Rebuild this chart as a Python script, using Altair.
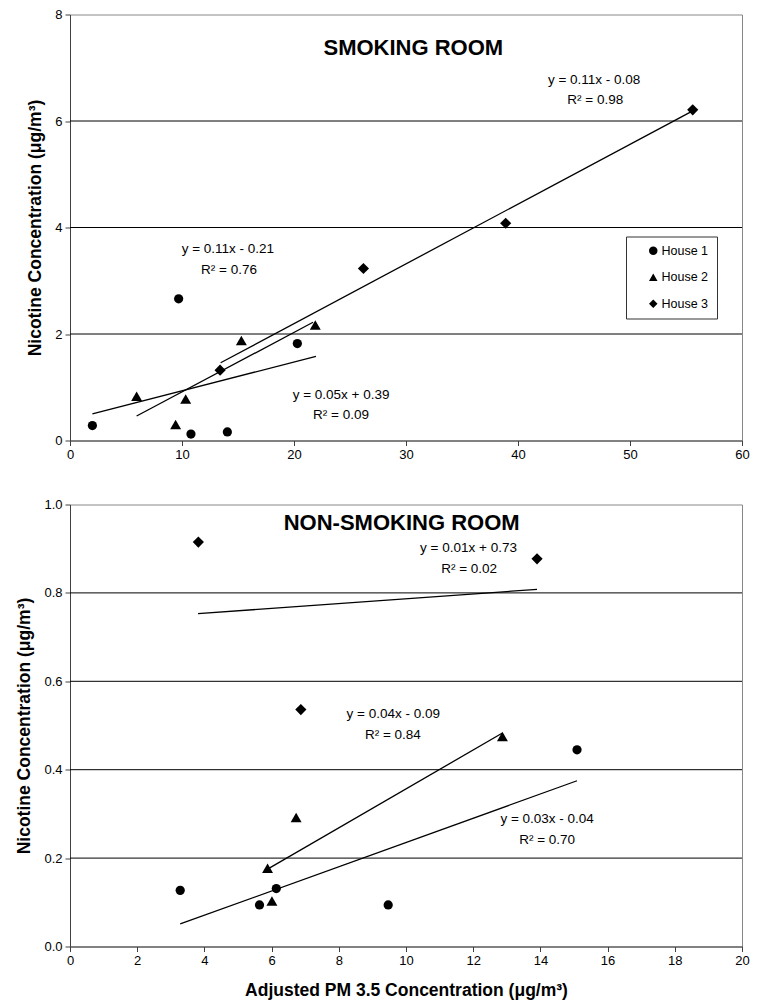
import altair as alt
import pandas as pd

FONT = "Liberation Sans"
houses = ["House 1", "House 2", "House 3"]
shapes = ["circle", "triangle-up", "diamond"]
marker_area = [85, 120, 125]

# ---- Smoking room: adjusted PM 3.5 (x) vs nicotine (y) ----
smk_h1_pm = [2.0, 9.7, 10.8, 14.05, 20.3]
smk_h1_nic = [0.28, 2.66, 0.12, 0.16, 1.82]
smk_h2_pm = [5.95, 9.43, 10.33, 15.3, 21.9]
smk_h2_nic = [0.83, 0.30, 0.78, 1.88, 2.17]
smk_h3_pm = [13.4, 26.2, 38.9, 55.6]
smk_h3_nic = [1.32, 3.23, 4.08, 6.21]

# Linear trendline end points (x pair, y pair)
smk_fit_h1 = ([2.0, 21.96], [0.50, 1.58])
smk_fit_h2 = ([5.95, 21.7], [0.46, 2.22])
smk_fit_h3 = ([13.45, 55.6], [1.46, 6.19])

smk_eq_text = ["y = 0.11x - 0.08", "R² = 0.98",
               "y = 0.11x - 0.21", "R² = 0.76",
               "y = 0.05x + 0.39", "R² = 0.09"]

# ---- Non-smoking room ----
non_h1_pm = [3.28, 5.64, 6.14, 9.47, 15.09]
non_h1_nic = [0.127, 0.094, 0.131, 0.094, 0.445]
non_h2_pm = [5.88, 6.01, 6.73, 12.87]
non_h2_nic = [0.177, 0.103, 0.292, 0.475]
non_h3_pm = [3.82, 6.87, 13.9]
non_h3_nic = [0.915, 0.536, 0.877]

non_fit_h1 = ([3.28, 15.09], [0.051, 0.375])
non_fit_h2 = ([5.88, 12.87], [0.175, 0.483])
non_fit_h3 = ([3.81, 13.9], [0.753, 0.808])

non_eq_text = ["y = 0.01x + 0.73", "R² = 0.02",
               "y = 0.04x - 0.09", "R² = 0.84",
               "y = 0.03x - 0.04", "R² = 0.70"]

# Annotation anchors, in axis units
smk_eq_x = [46.8, 46.9, 14.1, 14.2, 24.2, 24.2]
smk_eq_y = [6.77, 6.39, 3.60, 3.21, 0.86, 0.47]
non_eq_x = [11.86, 11.88, 9.62, 9.61, 14.2, 14.2]
non_eq_y = [0.902, 0.855, 0.527, 0.479, 0.288, 0.240]
smk_heading = ("SMOKING ROOM", 30.65, 7.37)
non_heading = ("NON-SMOKING ROOM", 9.87, 0.959)

smk_grid = [2, 4, 6]
non_grid = [0.2, 0.4, 0.6, 0.8]

Y_TITLE = "Nicotine Concentration (μg/m³)"
X_TITLE = "Adjusted PM 3.5 Concentration (μg/m³)"


def series_frame(series):
    rows = []
    for house, (xs, ys) in zip(houses, series):
        rows += [{"house": house, "pm": x, "nic": y} for x, y in zip(xs, ys)]
    return pd.DataFrame(rows)


def panel(pts, fits, eq_text, eq_x, eq_y, heading, grid, x_max, x_step,
          y_max, y_step, y_fmt, width, height, legend, x_title, ytitle_x):
    x_axis = alt.Axis(values=list(range(0, x_max + 1, x_step)), format="d",
                      title=x_title, labelFlush=False, grid=False,
                      titleY=44, titleBaseline="middle")
    n_y = int(round(y_max / y_step))
    y_axis = alt.Axis(values=[round(i * y_step, 3) for i in range(n_y + 1)],
                      format=y_fmt, title=Y_TITLE, labelFlush=False, grid=False,
                      titleX=ytitle_x, titleBaseline="middle")
    xs = alt.Scale(domain=[0, x_max], nice=False, zero=False)
    ys = alt.Scale(domain=[0, y_max], nice=False, zero=False)
    X = alt.X("pm:Q", scale=xs, axis=x_axis)
    Y = alt.Y("nic:Q", scale=ys, axis=y_axis)

    grid_layer = alt.Chart(pd.DataFrame({"nic": grid})).mark_rule(
        color="black", strokeWidth=1).encode(y=Y)

    fit_layer = alt.Chart(fits).mark_line(color="black", strokeWidth=1.3).encode(
        x=X, y=Y, detail="house:N")

    shape_enc = alt.Shape("house:N", scale=alt.Scale(domain=houses, range=shapes),
                          legend=legend)

    # one point layer per house so each marker type gets its own area
    point_layers = [
        alt.Chart(pts).transform_filter(alt.datum.house == h).mark_point(
            filled=True, color="black", opacity=1, strokeWidth=0, size=a).encode(
            x=X, y=Y, shape=shape_enc)
        for h, a in zip(houses, marker_area)
    ]

    eq_df = pd.DataFrame({"label": eq_text, "pm": eq_x, "nic": eq_y})
    eq_layer = alt.Chart(eq_df).mark_text(
        fontSize=13.5, color="black", align="center", baseline="middle").encode(
        x=X, y=Y, text="label:N")

    head_df = pd.DataFrame({"label": [heading[0]], "pm": [heading[1]], "nic": [heading[2]]})
    head_layer = alt.Chart(head_df).mark_text(
        fontSize=22, fontWeight="bold", color="black", align="center",
        baseline="middle").encode(x=X, y=Y, text="label:N")

    return alt.layer(grid_layer, fit_layer, *point_layers, eq_layer, head_layer).properties(
        width=width, height=height)


house_legend = alt.Legend(
    title=None, orient="none", legendX=556, legendY=222,
    strokeColor="#333333", fillColor="white", padding=8, rowPadding=13.5,
    symbolOffset=13, labelOffset=2, labelFontSize=12.5, symbolSize=72,
    symbolFillColor="black", symbolStrokeColor="black", symbolStrokeWidth=0,
    labelColor="black", labelExpr="datum.label + '          '")

top = panel(series_frame([(smk_h1_pm, smk_h1_nic), (smk_h2_pm, smk_h2_nic), (smk_h3_pm, smk_h3_nic)]),
            series_frame([smk_fit_h1, smk_fit_h2, smk_fit_h3]),
            smk_eq_text, smk_eq_x, smk_eq_y, smk_heading, smk_grid,
            60, 10, 8, 2, "d", 672, 426, house_legend, None, -35)

bottom = panel(series_frame([(non_h1_pm, non_h1_nic), (non_h2_pm, non_h2_nic), (non_h3_pm, non_h3_nic)]),
               series_frame([non_fit_h1, non_fit_h2, non_fit_h3]),
               non_eq_text, non_eq_x, non_eq_y, non_heading, non_grid,
               20, 2, 1.0, 0.2, ".1f", 672, 442, None, X_TITLE, -46)

chart = alt.vconcat(top, bottom, spacing=64, bounds="flush").resolve_scale(
    shape="independent", x="independent", y="independent"
).resolve_legend(shape="independent").properties(
    padding={"left": 14, "top": 7.5, "right": 5, "bottom": 2}
).configure(font=FONT).configure_view(
    stroke="#888888", strokeWidth=1
).configure_axis(
    domainColor="#404040", tickColor="#404040", tickSize=5, domainWidth=1,
    labelFontSize=13, labelColor="black", labelFont=FONT, labelPadding=3,
    titleFontSize=17.5, titleFontWeight="bold", titleColor="black", titleFont=FONT,
).configure_legend(labelFont=FONT)

chart.save("out.html", embed_options={"renderer": "svg", "actions": False})
